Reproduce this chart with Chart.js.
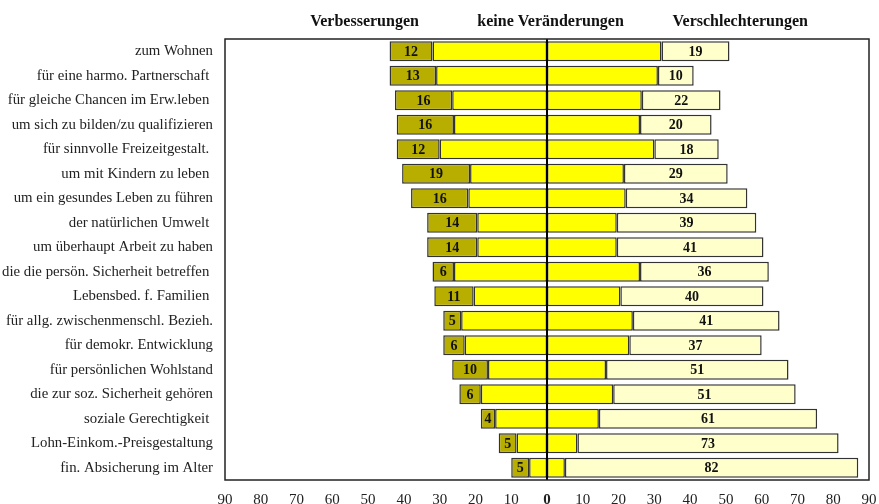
<!DOCTYPE html>
<html>
<head>
<meta charset="utf-8">
<script src="https://cdn.jsdelivr.net/npm/chart.js@4/dist/chart.umd.min.js"></script>
<style>
    html, body { margin: 0; padding: 0; background: #fff; }
    #wrap { width: 879px; height: 504px; position: relative; }
</style>
</head>
<body>
<div id="wrap"><canvas id="chart"></canvas></div>
<script>
// Kategorien (von oben nach unten)
const categories = [
    'zum Wohnen',
    'für eine harmo. Partnerschaft ',
    'für gleiche Chancen im Erw.leben ',
    'um sich zu bilden/zu qualifizieren',
    'für sinnvolle Freizeitgestalt. ',
    'um mit Kindern zu leben ',
    'um ein gesundes Leben zu führen',
    'der natürlichen Umwelt ',
    'um überhaupt Arbeit zu haben',
    'die die persön. Sicherheit betreffen ',
    'Lebensbed. f. Familien ',
    'für allg. zwischenmenschl. Bezieh.',
    'für demokr. Entwicklung',
    'für persönlichen Wohlstand',
    'die zur soz. Sicherheit gehören',
    'soziale Gerechtigkeit ',
    'Lohn-Einkom.-Preisgestaltung',
    'fin. Absicherung im Alter'
];

const verbesserungen = [12, 13, 16, 16, 12, 19, 16, 14, 14, 6, 11, 5, 6, 10, 6, 4, 5, 5];
const keineVeraenderungen = [64, 62, 53, 52, 60, 43, 44, 39, 39, 52, 41, 48, 46, 33, 37, 29, 17, 10];
const verschlechterungen = [19, 10, 22, 20, 18, 29, 34, 39, 41, 36, 40, 41, 37, 51, 51, 61, 73, 82];

const xTicks = [-90, -80, -70, -60, -50, -40, -30, -20, -10, 0, 10, 20, 30, 40, 50, 60, 70, 80, 90];

const headers = [
    { text: 'Verbesserungen', at: -51 },
    { text: 'keine Veränderungen', at: 1 },
    { text: 'Verschlechterungen', at: 54 }
];

const OLIVE = '#B8AE00';
const YELLOW = '#FFFF00';
const LIGHT = '#FFFFCC';
const EDGE = '#333333';
const SERIF = "'Liberation Serif', 'Times New Roman', serif";

// Rahmen, Nulllinie, Werte und Spaltenköpfe
const decorations = {
    id: 'decorations',
    afterDatasetsDraw(chart) {
        const ctx = chart.ctx;
        const area = chart.chartArea;
        const x = chart.scales.x;

        ctx.save();
        // Werte in den Segmenten
        ctx.font = 'bold 14px ' + SERIF;
        ctx.fillStyle = '#111';
        ctx.textAlign = 'center';
        ctx.textBaseline = 'middle';
        [2, 3].forEach(function (di) {
            const meta = chart.getDatasetMeta(di);
            const values = chart.data.datasets[di].data;
            meta.data.forEach(function (bar, i) {
                const cx = (bar.x + bar.base) / 2;
                ctx.fillText(String(Math.abs(values[i])), cx, bar.y + 1);
            });
        });

        // Nulllinie
        const zx = x.getPixelForValue(0);
        ctx.strokeStyle = '#000';
        ctx.lineWidth = 2;
        ctx.beginPath();
        ctx.moveTo(zx, area.top);
        ctx.lineTo(zx, area.bottom);
        ctx.stroke();

        // Rahmen
        ctx.strokeStyle = '#222';
        ctx.lineWidth = 1.5;
        ctx.strokeRect(area.left, area.top, area.right - area.left, area.bottom - area.top);

        // Spaltenköpfe
        ctx.font = 'bold 16px ' + SERIF;
        ctx.fillStyle = '#111';
        headers.forEach(function (h) {
            ctx.fillText(h.text, x.getPixelForValue(h.at), 22);
        });
        ctx.restore();
    }
};

new Chart(document.getElementById('chart'), {
    type: 'bar',
    data: {
        labels: categories,
        datasets: [
            {
                label: 'keine Veränderungen',
                data: keineVeraenderungen.map(v => -v / 2),
                backgroundColor: YELLOW
            },
            {
                label: 'keine Veränderungen',
                data: keineVeraenderungen.map(v => v / 2),
                backgroundColor: YELLOW
            },
            {
                label: 'Verbesserungen',
                data: verbesserungen.map(v => -v),
                backgroundColor: OLIVE
            },
            {
                label: 'Verschlechterungen',
                data: verschlechterungen,
                backgroundColor: LIGHT
            }
        ]
    },
    plugins: [decorations],
    options: {
        indexAxis: 'y',
        responsive: true,
        maintainAspectRatio: false,
        animation: false,
        layout: { padding: { top: 39, right: 10, left: 0, bottom: 0 } },
        datasets: {
            bar: {
                barPercentage: 0.82,
                categoryPercentage: 1,
                borderColor: EDGE,
                borderWidth: 1.5,
                borderSkipped: false
            }
        },
        plugins: {
            legend: { display: false },
            tooltip: { enabled: false }
        },
        scales: {
            x: {
                stacked: true,
                min: -90,
                max: 90,
                grid: { display: false, drawTicks: false },
                border: { display: false },
                afterBuildTicks: function (scale) {
                    scale.ticks = xTicks.map(v => ({ value: v }));
                },
                afterFit: function (scale) {
                    scale.height = 24;
                    scale.paddingLeft = 0;
                    scale.paddingRight = 0;
                },
                ticks: {
                    autoSkip: false,
                    maxRotation: 0,
                    padding: 11,
                    color: '#222',
                    font: function (c) {
                        const bold = c.tick && c.tick.value === 0;
                        return { family: SERIF, size: 15, weight: bold ? 'bold' : 'normal' };
                    },
                    callback: function (value) {
                        return String(Math.abs(value));
                    }
                }
            },
            y: {
                stacked: true,
                grid: { display: false, drawTicks: false },
                border: { display: false },
                afterFit: function (scale) {
                    scale.width = 225;
                },
                ticks: {
                    autoSkip: false,
                    padding: 12,
                    color: '#222',
                    font: { family: SERIF, size: 14.8 }
                }
            }
        }
    }
});
</script>
</body>
</html>
